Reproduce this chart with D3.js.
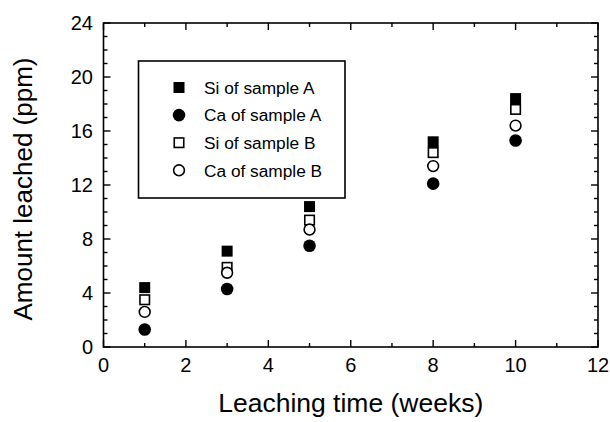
<!DOCTYPE html>
<html>
<head>
<meta charset="utf-8">
<script src="https://cdn.jsdelivr.net/npm/d3@7"></script>
<style>
  html, body { margin: 0; padding: 0; background: #fff; }
  svg { display: block; font-family: "Liberation Sans", Arial, sans-serif; }
</style>
</head>
<body>
<svg id="chart" width="610" height="422"></svg>
<script>
// Leaching time in weeks and amounts leached (ppm)
const weeks = [1, 3, 5, 8, 10];
const siA = [4.4, 7.1, 10.4, 15.2, 18.4];
const caA = [1.3, 4.3, 7.5, 12.1, 15.3];
const siB = [3.5, 5.9, 9.4, 14.4, 17.6];
const caB = [2.6, 5.5, 8.7, 13.4, 16.4];

const xTicks = [0, 2, 4, 6, 8, 10, 12];
const yTicks = [0, 4, 8, 12, 16, 20, 24];
const xMinor = d3.range(0, 12.01, 1);
const yMinor = d3.range(0, 24.01, 1);

const seriesNames = ["Si of sample A", "Ca of sample A", "Si of sample B", "Ca of sample B"];
const seriesValues = [siA, caA, siB, caB];
const seriesShapes = ["square", "circle", "square", "circle"];
const seriesFilled = [true, true, false, false];

const margin = { left: 103.5, right: 598, top: 23, bottom: 347 };
const svg = d3.select("#chart");

const x = d3.scaleLinear().domain([0, 12]).range([margin.left, margin.right]);
const y = d3.scaleLinear().domain([0, 24]).range([margin.bottom, margin.top]);

const majorLen = 7, minorLen = 4;
const g = svg.append("g");

// Frame
g.append("rect")
  .attr("x", x(0)).attr("y", y(24))
  .attr("width", x(12) - x(0)).attr("height", y(0) - y(24))
  .attr("fill", "none").attr("stroke", "#000").attr("stroke-width", 1.6);

// Inward ticks on all four sides, major every 2 weeks / 4 ppm, minor every unit
const isMajorX = v => xTicks.includes(v);
const isMajorY = v => yTicks.includes(v);

const tg = g.append("g").attr("stroke", "#000").attr("stroke-width", 1.4);
xMinor.forEach(v => {
  const L = isMajorX(v) ? majorLen : minorLen;
  tg.append("line").attr("x1", x(v)).attr("x2", x(v)).attr("y1", y(0)).attr("y2", y(0) - L);
  tg.append("line").attr("x1", x(v)).attr("x2", x(v)).attr("y1", y(24)).attr("y2", y(24) + L);
});
yMinor.forEach(v => {
  const L = isMajorY(v) ? majorLen : minorLen;
  tg.append("line").attr("y1", y(v)).attr("y2", y(v)).attr("x1", x(0)).attr("x2", x(0) + L);
  tg.append("line").attr("y1", y(v)).attr("y2", y(v)).attr("x1", x(12)).attr("x2", x(12) - L);
});

// Tick labels
g.append("g").selectAll("text").data(xTicks).join("text")
  .attr("x", d => x(d)).attr("y", 372)
  .attr("text-anchor", "middle").attr("font-size", 20).text(d => d);
g.append("g").selectAll("text").data(yTicks).join("text")
  .attr("x", 93).attr("y", d => y(d)).attr("dy", "0.36em")
  .attr("text-anchor", "end").attr("font-size", 20).text(d => d);

// Axis titles
g.append("text").attr("x", (x(0) + x(12)) / 2).attr("y", 412)
  .attr("text-anchor", "middle").attr("font-size", 26.5).text("Leaching time (weeks)");
g.append("text")
  .attr("transform", `translate(32,${(y(0) + y(24)) / 2 + 4}) rotate(-90)`)
  .attr("text-anchor", "middle").attr("font-size", 26).text("Amount leached (ppm)");

// Markers: filled for sample A, white-filled outlines for sample B
function drawMarker(sel, shape, filled, cx, cy) {
  if (shape === "square") {
    const s = filled ? 11 : 9.5;
    sel.append("rect").attr("x", cx - s / 2).attr("y", cy - s / 2)
      .attr("width", s).attr("height", s)
      .attr("fill", filled ? "#000" : "#fff")
      .attr("stroke", "#000").attr("stroke-width", filled ? 0 : 1.6);
  } else {
    sel.append("circle").attr("cx", cx).attr("cy", cy)
      .attr("r", filled ? 6.3 : 5.4)
      .attr("fill", filled ? "#000" : "#fff")
      .attr("stroke", "#000").attr("stroke-width", filled ? 0 : 1.6);
  }
}

const mg = g.append("g");
seriesValues.forEach((vals, i) => {
  const sg = mg.append("g");
  vals.forEach((v, j) => drawMarker(sg, seriesShapes[i], seriesFilled[i], x(weeks[j]), y(v)));
});

// Legend
const lg = g.append("g");
lg.append("rect").attr("x", 138.5).attr("y", 61).attr("width", 206.5).attr("height", 137)
  .attr("fill", "#fff").attr("stroke", "#000").attr("stroke-width", 1.6);
seriesNames.forEach((name, i) => {
  const cy = 87.5 + i * 27.6;
  drawMarker(lg, seriesShapes[i], seriesFilled[i], 179, cy);
  lg.append("text").attr("x", 204).attr("y", cy).attr("dy", "0.36em")
    .attr("font-size", 17.3).text(name);
});
</script>
</body>
</html>
